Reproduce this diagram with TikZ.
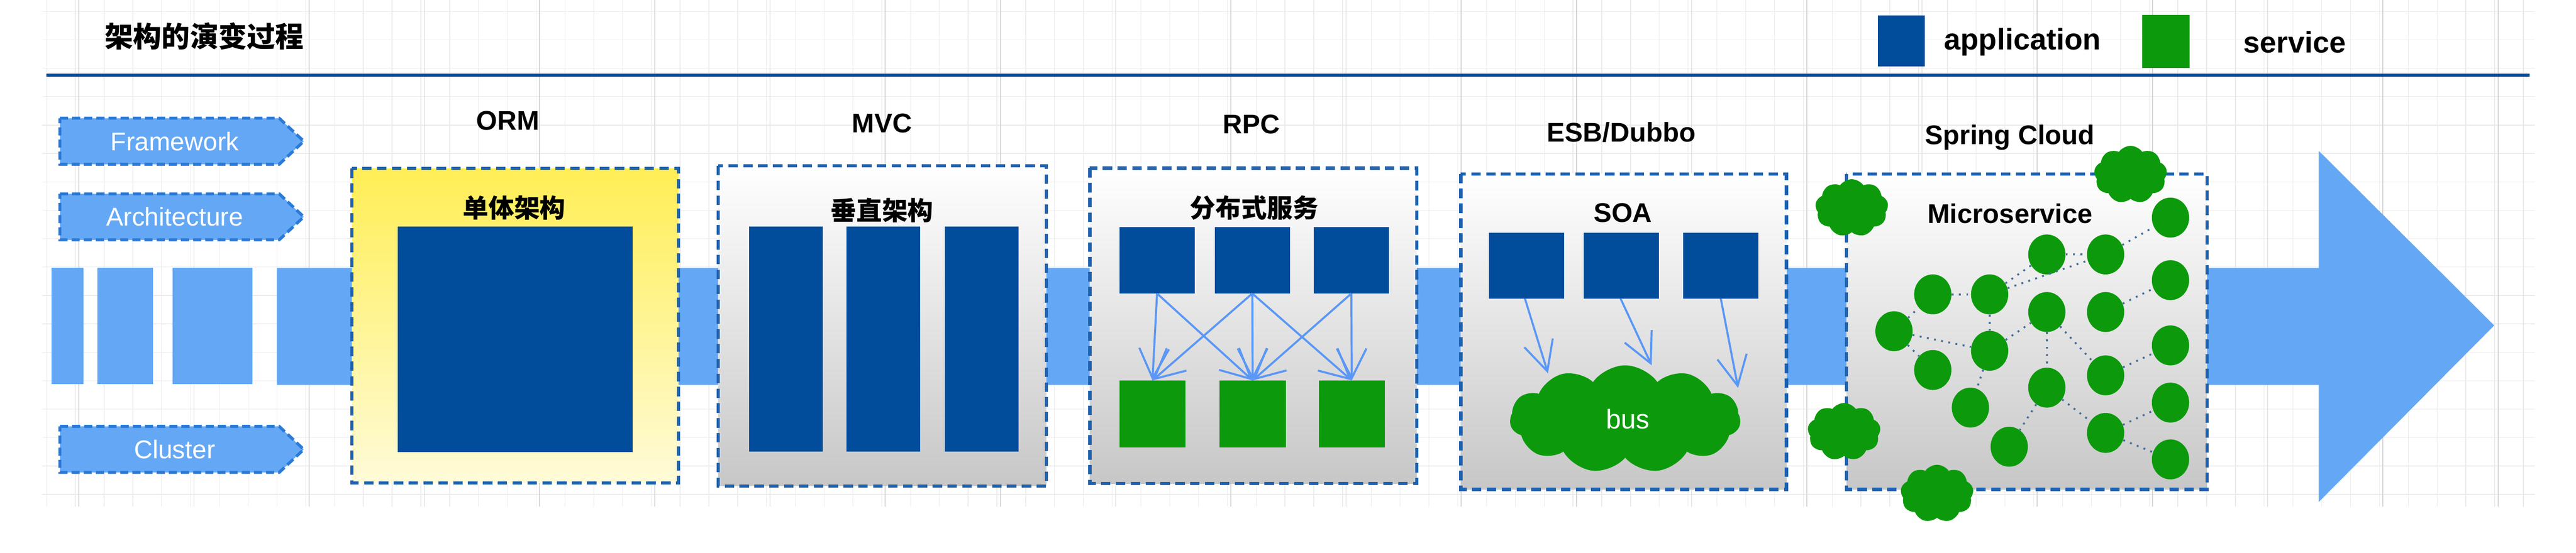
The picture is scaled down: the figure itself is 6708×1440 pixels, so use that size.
\documentclass[tikz,border=0pt]{standalone}
\usepackage{fontspec}
\setmainfont{Liberation Sans}
\newfontfamily\cjk{Noto Sans CJK SC}
\usetikzlibrary{shapes.symbols,shapes.geometric,arrows.meta}
\definecolor{appblue}{HTML}{024C9C}
\definecolor{svcgreen}{HTML}{0C9A0C}
\definecolor{lblue}{HTML}{64A8F5}
\definecolor{dblue}{HTML}{1E62B0}
\definecolor{tagline}{HTML}{2A7AD8}
\definecolor{ytop}{HTML}{FFEE55}
\definecolor{ybot}{HTML}{FFFBD8}
\begin{document}
\begin{tikzpicture}[x=0.01cm,y=-0.01cm,
  app/.style={fill=appblue,draw=none,inner sep=0},
  svc/.style={fill=svcgreen,draw=none,inner sep=0},
  stage/.style={draw=dblue,line width=2.4pt,dash pattern=on 7pt off 4pt},
  graybox/.style={stage,top color=white,bottom color=black!22},
  tag/.style={fill=lblue,draw=tagline,line width=2.2pt,dash pattern=on 6pt off 3pt},
  tagtxt/.style={text=white,font=\fontsize{19}{22}\selectfont},
  head/.style={font=\bfseries\fontsize{20}{24}\selectfont},
  zh/.style={font=\cjk\bfseries\fontsize{19}{23}\selectfont},
  rpcarrow/.style={draw=lblue!90!blue,line width=1.5pt,-{Straight Barb[length=22pt,width=22pt]}},
  ms/.style={ellipse,fill=svcgreen,minimum width=0.97cm,minimum height=1.04cm,inner sep=0},
  puff/.style={cloud,cloud puffs=9,cloud puff arc=110,fill=svcgreen,minimum width=1.9cm,minimum height=1.5cm,inner sep=0},
  dots/.style={draw=dblue!60!gray,line width=1.4pt,dash pattern=on 1.4pt off 4pt}]
\useasboundingbox (0,0) rectangle (6708,1440);
\fill[white] (0,0) rectangle (6708,1440);
% grid
\foreach \x in {121,196,...,6600} \draw[black!8,line width=0.5pt] (\x,0) -- (\x,1320);
\foreach \y in {30,104,...,1320} \draw[black!8,line width=0.5pt] (110,\y) -- (6600,\y);
\foreach \x in {205,505,...,6600} \draw[black!16,line width=0.6pt] (\x,0) -- (\x,1320);
% title and legend
\node[font=\cjk\bfseries\fontsize{21}{25}\selectfont] (title) at (532,95) {架构的演变过程};
\draw[appblue,line width=2.4pt] (121,196) -- (6587,196);
\node[app,minimum width=1.23cm,minimum height=1.33cm] (lgA) at (4951,107) {};
\node[font=\bfseries\fontsize{22}{26}\selectfont,anchor=west] (lgAt) at (5050,110) {application};
\node[svc,minimum width=1.24cm,minimum height=1.38cm] (lgS) at (5640,108) {};
\node[font=\bfseries\fontsize{22}{26}\selectfont,anchor=west] (lgSt) at (5830,110) {service};
% tags
\foreach \n/\t/\yy in {fw/Framework/308,ar/Architecture/505,cl/Cluster/1111}{
  \draw[tag] (156,\yy) -- (727,\yy) -- (791,\yy+60) -- (727,\yy+120) -- (156,\yy+120) -- cycle;
  \node[tagtxt] (\n) at (455,\yy+60) {\t};
}
% band
\fill[lblue] (134,698) rectangle (217,1001);
\fill[lblue] (253,698) rectangle (399,1001);
\fill[lblue] (449,698) rectangle (658,1001);
\fill[lblue] (721,698) -- (6038,698) -- (6038,393) -- (6495,848) -- (6038,1308) -- (6038,1003) -- (721,1003) -- cycle;
% ORM
\node[head] (orm) at (1323,315) {ORM};
\path[stage,top color=ytop,bottom color=ybot] (916,439) rectangle (1767,1258);
\node[zh] (ormz) at (1339,542) {单体架构};
\node[app,minimum width=6.11cm,minimum height=5.88cm] (mono) at (1342,884) {};
% MVC
\node[head] (mvc) at (2297,321) {MVC};
\path[graybox] (1870,432) rectangle (2725,1266);
\node[zh] (mvcz) at (2297,548) {垂直架构};
\foreach \i/\x in {1/2047,2/2300,3/2556}
  \node[app,minimum width=1.92cm,minimum height=5.86cm] (v\i) at (\x,883) {};
% RPC
\node[head] (rpc) at (3259,324) {RPC};
\path[graybox] (2838,438) rectangle (3689,1260);
\node[zh] (rpcz) at (3266,541) {分布式服务};
\foreach \i/\x in {1/3013,2/3261,3/3519}
  \node[app,minimum width=1.96cm,minimum height=1.72cm] (ra\i) at (\x,678) {};
\foreach \i/\x in {1/3001,2/3262,3/3520}
  \node[svc,minimum width=1.72cm,minimum height=1.74cm] (rs\i) at (\x,1079) {};
\foreach \a/\b in {1/1,1/2,2/1,2/2,2/3,3/2,3/3}
  \draw[rpcarrow] (ra\a.south) -- (rs\b.north);
% SOA
\node[head] (esb) at (4222,345) {ESB/Dubbo};
\path[graybox] (3804,453) rectangle (4652,1275);
\node[head] (soa) at (4226,555) {SOA};
\foreach \i/\x in {1/3975,2/4222,3/4481}
  \node[app,minimum width=1.95cm,minimum height=1.72cm] (sa\i) at (\x,692) {};
\node[cloud,cloud puffs=11,cloud puff arc=110,aspect=2.1,fill=svcgreen,minimum width=6.0cm,minimum height=2.8cm,inner sep=0] (bus) at (4232,1092) {};
\node[text=white,font=\fontsize{20}{24}\selectfont] (bust) at (4239,1092) {bus};
\coordinate (b1) at (4031,973);
\coordinate (b2) at (4301,952);
\coordinate (b3) at (4526,1011);
\draw[rpcarrow] (3971,778) coordinate (s1) -- (b1);
\draw[rpcarrow] (4220,778) coordinate (s2) -- (b2);
\draw[rpcarrow] (4481,778) coordinate (s3) -- (b3);
% Microservice
\node[head] (sc) at (5234,358) {Spring Cloud};
\path[graybox] (4808,453) rectangle (5747,1275);
\node[head] (msz) at (5234,556) {Microservice};
\foreach \i/\x/\y in {1/5652/567,2/5330/663,3/5483/663,4/5033/767,5/5181/767,6/5652/730,7/5330/813,8/5483/813,9/4932/863,10/5181/914,11/5652/900,12/5033/964,13/5483/978,14/5330/1010,15/5131/1062,16/5652/1049,17/5483/1128,18/5232/1164,19/5652/1197}
  \node[ms] (m\i) at (\x,\y) {};
\foreach \a/\b in {9/4,4/5,5/2,2/3,3/1,9/12,9/10,5/10,10/7,7/14,7/13,8/6,13/11,10/15,14/18,14/17,17/16,17/19,5/3}
  \draw[dots] (m\a) -- (m\b);
\node[puff] (p1) at (4822,542) {};
\node[puff] (p2) at (5548,455) {};
\node[puff] (p3) at (4802,1125) {};
\node[puff] (p4) at (5044,1286) {};
\end{tikzpicture}
\end{document}
